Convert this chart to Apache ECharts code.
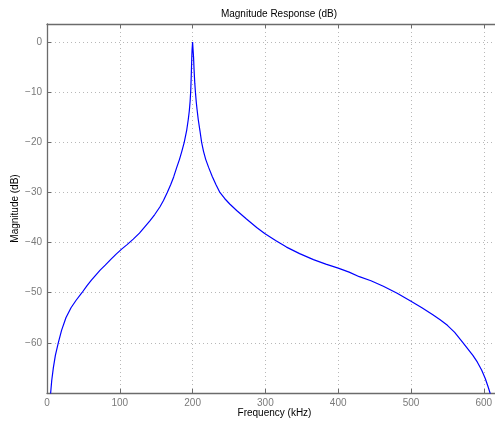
<!DOCTYPE html>
<html>
<head>
<meta charset="utf-8">
<script src="https://cdn.jsdelivr.net/npm/echarts@6/dist/echarts.min.js"></script>
<style>
  html, body { margin: 0; padding: 0; background: #fff; }
  #chart { width: 495px; height: 422px; }
</style>
</head>
<body>
<div id="chart"></div>
<script>
// Frequency samples (kHz) and filter magnitude (dB)
const freqKHz = [
  4, 5, 6.5, 8.7, 11.5, 15.5, 20, 26, 33, 40, 48, 55, 61, 67, 73, 80, 88, 95,
  102.5, 110, 118.5, 127, 134, 141, 148, 155, 160, 165.2, 170, 174, 178, 182,
  185, 188.5, 192, 194, 195.5, 196.6, 197.5, 198.2, 198.8, 199.3, 200,
  200.6, 201.3, 202, 203, 203.9, 205, 206, 207.8, 210, 212.4, 215, 218, 222,
  227, 232, 237.5, 244, 251, 260.5, 274, 288, 299, 314, 329, 347, 366, 383,
  400, 415, 429, 445, 462, 481, 500, 515, 530, 540, 550, 560, 571, 585,
  591, 597, 602, 606, 609, 612
];
const magnitudeDb = [
  -73, -70, -67.5, -65, -62.5, -60, -57.5, -55, -53, -51.5, -50, -48.6, -47.5, -46.5, -45.5, -44.5, -43.3, -42.3,
  -41.3, -40.4, -39.3, -38.1, -36.9, -35.7, -34.4, -32.9, -31.6, -30, -28.4, -26.9, -25.1, -23.4,
  -21.9, -20, -17.5, -15.5, -13.7, -11.8, -9.5, -6.5, -3.5, -1.5, 0,
  -1.5, -3, -5.5, -8.2, -10, -11.9, -13.3, -15.5, -17.6, -20, -21.8, -23.4, -25,
  -26.8, -28.4, -30, -31.2, -32.3, -33.6, -35.3, -37, -38.2, -39.6, -40.9, -42.2, -43.4, -44.3,
  -45.1, -45.9, -46.8, -47.6, -48.7, -50.1, -51.7, -53, -54.4, -55.4, -56.5, -57.9, -59.9, -62.5,
  -63.8, -65.4, -67.1, -68.8, -70.2, -71.8
];
const xTicks = [0, 100, 200, 300, 400, 500, 600];
const yTicks = [-60, -50, -40, -30, -20, -10, 0];

const points = freqKHz.map((f, i) => [f, magnitudeDb[i]]);
const minus = v => (v < 0 ? '\u2212' + Math.abs(v) : String(v));

const font = 'Liberation Sans, Arial, Helvetica, sans-serif';
const axisGray = '#6b6b6b';
const labelGray = '#7a7a7a';
const gridDots = { color: '#b8b8b8', width: 1, type: [1, 3] };

const chart = echarts.init(document.getElementById('chart'), null, { renderer: 'canvas' });
chart.setOption({
  animation: false,
  backgroundColor: '#ffffff',
  title: {
    text: 'Magnitude Response (dB)',
    left: 274, top: 4, textAlign: 'center',
    textStyle: { fontFamily: font, fontSize: 10, fontWeight: 'normal', color: '#000' }
  },
  grid: { left: 47, top: 24, right: -7, bottom: 29, containLabel: false, outerBoundsMode: 'none' },
  xAxis: [{
    type: 'value', min: 0, max: 625, interval: 100, position: 'bottom',
    name: 'Frequency (kHz)', nameLocation: 'middle', nameGap: 15, nameMoveOverlap: false,
    nameTextStyle: { fontFamily: font, fontSize: 10, color: '#000' },
    axisLine: { show: true, onZero: false, lineStyle: { color: axisGray, width: 1.3 } },
    axisTick: { show: true, inside: true, length: 4, lineStyle: { color: axisGray } },
    axisLabel: {
      fontFamily: font, fontSize: 10, color: labelGray, margin: 5,
      showMaxLabel: false,
      formatter: v => (xTicks.includes(v) ? String(v) : '')
    },
    splitLine: { show: true, lineStyle: gridDots }
  }, {
    type: 'value', min: 0, max: 625, interval: 100, position: 'top',
    axisLine: { show: true, onZero: false, lineStyle: { color: axisGray, width: 1.3 } },
    axisTick: { show: true, inside: true, length: 4, lineStyle: { color: axisGray } },
    axisLabel: { show: false },
    splitLine: { show: false }
  }],
  yAxis: [{
    type: 'value', min: -70, max: 3.6, interval: 10, position: 'left',
    name: 'Magnitude (dB)', nameLocation: 'middle', nameGap: 27, nameRotate: 90, nameMoveOverlap: false,
    nameTextStyle: { fontFamily: font, fontSize: 10, color: '#000' },
    axisLine: { show: true, onZero: false, lineStyle: { color: axisGray, width: 1.3 } },
    axisTick: { show: true, inside: true, length: 4, lineStyle: { color: axisGray } },
    axisLabel: {
      fontFamily: font, fontSize: 10, color: labelGray, margin: 5,
      showMaxLabel: false, showMinLabel: false,
      formatter: v => (yTicks.includes(v) ? minus(v) : '')
    },
    splitLine: { show: true, lineStyle: gridDots }
  }],
  series: [{
    type: 'line',
    data: points,
    showSymbol: false,
    smooth: false,
    clip: true,
    lineStyle: { color: '#0000ff', width: 1.2 }
  }]
});
</script>
</body>
</html>
